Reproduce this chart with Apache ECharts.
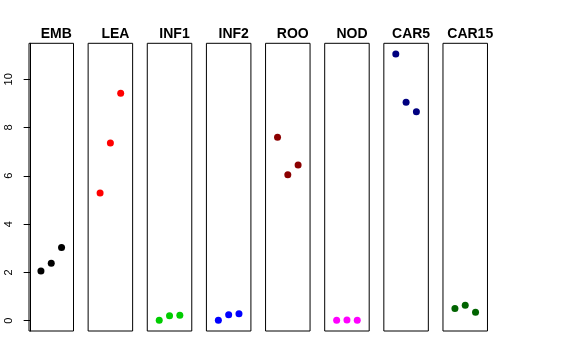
<!DOCTYPE html>
<html><head><meta charset="utf-8">
<script src="https://cdn.jsdelivr.net/npm/echarts@6/dist/echarts.min.js"></script>
<style>html,body{margin:0;padding:0;background:#fff}#c{width:576px;height:360px}</style>
</head><body><div id="c"></div>
<script>
var categories = ["EMB","LEA","INF1","INF2","ROO","NOD","CAR5","CAR15"];
var xPositions = [1,2,3];
var EMB = [2.06, 2.38, 3.03];
var LEA = [5.29, 7.36, 9.42];
var INF1 = [0.01, 0.20, 0.22];
var INF2 = [0.01, 0.24, 0.28];
var ROO = [7.60, 6.04, 6.45];
var NOD = [0.01, 0.02, 0.01];
var CAR5 = [11.05, 9.05, 8.65];
var CAR15 = [0.50, 0.64, 0.35];
var yTicks = [0,2,4,6,8,10];
var colors = ["#000000","#FF0000","#00CD00","#0000FF","#8B0000","#FF00FF","#000080","#006400"];
var seriesValues = [EMB, LEA, INF1, INF2, ROO, NOD, CAR5, CAR15];

var yMin = -0.4316, yMax = 11.4916;
var grids = [], xAxes = [], yAxes = [], titles = [], series = [];
var gLeft0 = 29, gStep = 59.14, gW = 44.5, gTop = 43.3, gH = 287.7;
for (var i = 0; i < categories.length; i++) {
  var l = gLeft0 + gStep * i;
  grids.push({left: l, top: gTop, width: gW, height: gH, show: true, borderColor: '#000', borderWidth: 1});
  xAxes.push({gridIndex: i, type: 'value', min: -0.16, max: 4.16, show: false});
  var yAx = {gridIndex: i, type: 'value', min: yMin, max: yMax, show: i === 0,
    splitLine: {show: false}};
  if (i === 0) {
    yAx.axisLine = {show: true, lineStyle: {color: '#000', width: 1}};
    yAx.axisTick = {show: true, length: 7, inside: false, lineStyle: {color: '#000'}, customValues: yTicks};
    yAx.axisLabel = {show: true, rotate: 90, margin: 15, fontSize: 11, color: '#000',
      fontFamily: 'Liberation Sans, Arial, sans-serif', customValues: yTicks};
  }
  yAxes.push(yAx);
  titles.push({text: categories[i], left: l + gW / 2, top: 22, textAlign: 'center',
    textStyle: {fontSize: 14, fontWeight: 'bold', color: '#000', fontFamily: 'Liberation Sans, Arial, sans-serif'}});
  var vals = seriesValues[i];
  series.push({type: 'scatter', name: categories[i], xAxisIndex: i, yAxisIndex: i,
    symbol: 'circle', symbolSize: 7, itemStyle: {color: colors[i], opacity: 1},
    data: vals.map(function (v, j) { return [xPositions[j], v]; })});
}
var chart = echarts.init(document.getElementById('c'), null, {renderer: 'canvas'});
chart.setOption({animation: false, backgroundColor: '#fff', title: titles, grid: grids, xAxis: xAxes, yAxis: yAxes, series: series});
</script></body></html>
